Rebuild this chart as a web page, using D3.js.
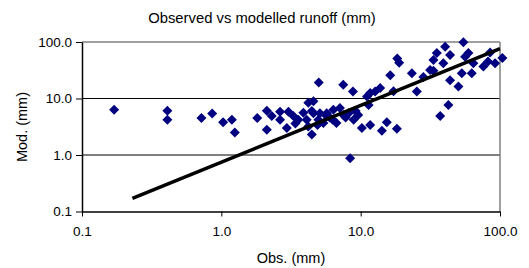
<!DOCTYPE html>
<html>
<head>
<meta charset="utf-8">
<style>
  body { margin: 0; background: #fff; }
  svg { font-family: "Liberation Sans", Arial, sans-serif; }
</style>
<script src="https://d3js.org/d3.v7.min.js"></script>
</head>
<body>
<svg width="529" height="268"></svg>
<script>
    // observed runoff (mm)
    var obs = [0.17, 0.41, 0.41, 0.72, 0.86, 1.03, 1.19, 1.25, 1.81, 2.12,
        2.12, 2.30, 2.64, 2.64, 3.03, 2.95, 3.29, 3.57, 3.88, 4.21,
        4.21, 4.10, 4.46, 4.58, 4.58, 4.97, 4.46, 5.0, 5.71, 6.37,
        7.1, 6.7, 7.5, 8.2, 8.9, 9.6, 10.2, 11.4, 5.4, 8.4,
        11.7, 14.2, 15.4, 18.2, 8.8, 7.5, 11.1, 11.7, 12.7, 13.8,
        16.3, 17.2, 18.3, 18.9, 23.3, 25.3, 28.2, 31.5, 33.3, 35.2,
        40.4, 39.2, 37.2, 42.6, 43.8, 43.8, 50.3, 53.2, 54.6, 56.2,
        59.3, 62.7, 64.4, 76, 84.9, 92.2, 104, 82, 5.1, 6.3,
        5.7, 33.3, 3.4, 4.9, 6.0, 7.8, 9.2];
    // modelled runoff (mm)
    var mod = [6.3, 6.1, 4.2, 4.5, 5.4, 3.8, 4.2, 2.5, 4.5, 6.1,
        2.8, 4.9, 5.8, 4.2, 5.8, 3.0, 4.9, 4.2, 5.6, 8.4,
        3.2, 4.2, 6.0, 8.9, 5.5, 4.2, 2.3, 19.2, 5.5, 6.3,
        6.8, 3.7, 5.1, 5.5, 4.2, 5.1, 3.0, 7.7, 3.7, 0.88,
        3.4, 2.7, 3.8, 2.9, 13.3, 17.5, 10.8, 12.5, 13.3, 15.3,
        25.7, 13.4, 51, 43, 28, 13.3, 24, 32, 48, 64,
        82, 42, 4.9, 7.7, 59, 21, 16.3, 28, 99, 55,
        64, 28, 42, 37, 65, 42, 52, 45, 5.5, 4.2,
        4.9, 31, 3.6, 3.4, 4.6, 4.6, 6.0];
    // fitted line
    var fitX = [0.23, 100];
    var fitY = [0.17, 76];
    var tickVals = [0.1, 1, 10, 100];

    var svg = d3.select("svg");
    var pLeft = 82, pRight = 500, pTop = 42, pBottom = 211.5;

    var x = d3.scaleLog().domain([0.1, 100]).range([pLeft, pRight]);
    var y = d3.scaleLog().domain([0.1, 100]).range([pBottom, pTop]);
    var fmt = d3.format(".1f");

    // grid lines (10 and 1 black, 100 grey border)
    svg.append("g").selectAll("line")
        .data([1, 10])
        .enter().append("line")
        .attr("x1", pLeft).attr("x2", pRight)
        .attr("y1", function (d) { return y(d); })
        .attr("y2", function (d) { return y(d); })
        .attr("stroke", "#000").attr("stroke-width", 1);
    svg.append("line")
        .attr("x1", pLeft).attr("x2", pRight)
        .attr("y1", y(100)).attr("y2", y(100))
        .attr("stroke", "#808080").attr("stroke-width", 1.5);
    svg.append("line")
        .attr("x1", pRight).attr("x2", pRight)
        .attr("y1", pTop).attr("y2", pBottom)
        .attr("stroke", "#808080").attr("stroke-width", 1.5);

    // axes
    svg.append("g")
        .attr("transform", "translate(0," + pBottom + ")")
        .call(d3.axisBottom(x).tickValues(tickVals).tickFormat(fmt).tickSize(5).tickSizeOuter(0).tickPadding(10));
    svg.append("g")
        .attr("transform", "translate(" + pLeft + ",0)")
        .call(d3.axisLeft(y).tickValues(tickVals).tickFormat(fmt).tickSize(6).tickSizeOuter(0).tickPadding(4));
    svg.selectAll(".tick text").attr("font-size", "13.5px").attr("fill", "#000")
        .attr("font-family", "'Liberation Sans', Arial, sans-serif");
    svg.selectAll(".domain").attr("stroke", "#000").attr("stroke-width", 1.5);
    svg.selectAll(".tick line").attr("stroke", "#000");

    // points
    var pts = d3.range(obs.length).map(function (i) { return { o: obs[i], m: mod[i] }; });
    svg.append("g").selectAll("path")
        .data(pts)
        .enter().append("path")
        .attr("d", d3.symbol().type(d3.symbolSquare).size(50))
        .attr("transform", function (d) {
            return "translate(" + x(d.o) + "," + y(d.m) + ") rotate(45)";
        })
        .attr("fill", "#000080");

    // fitted line
    var line = d3.line()
        .x(function (d) { return x(d[0]); })
        .y(function (d) { return y(d[1]); });
    svg.append("path")
        .datum(d3.zip(fitX, fitY))
        .attr("d", line)
        .attr("fill", "none")
        .attr("stroke", "#000")
        .attr("stroke-width", 3.5);

    // titles
    svg.append("text")
        .attr("x", 262).attr("y", 23)
        .attr("text-anchor", "middle")
        .attr("font-size", "14.8px")
        .text("Observed vs modelled runoff (mm)");
    svg.append("text")
        .attr("x", 291).attr("y", 263)
        .attr("text-anchor", "middle")
        .attr("font-size", "14.5px")
        .text("Obs. (mm)");
    svg.append("text")
        .attr("transform", "translate(27,127) rotate(-90)")
        .attr("text-anchor", "middle")
        .attr("font-size", "14.5px")
        .text("Mod. (mm)");
</script>
</body>
</html>
